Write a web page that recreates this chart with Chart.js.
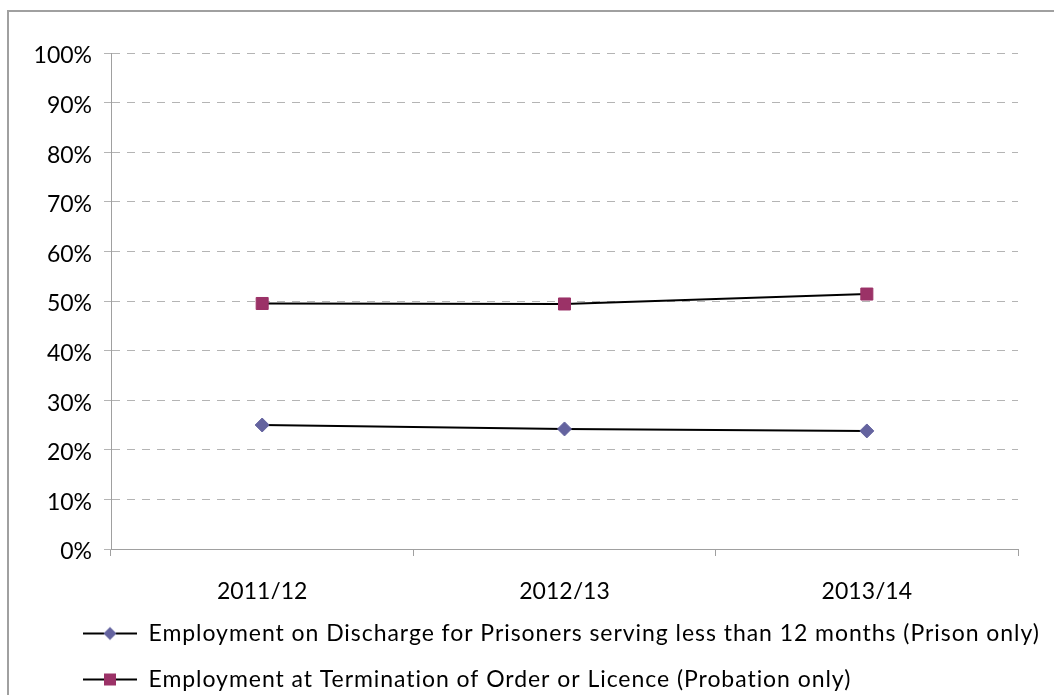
<!DOCTYPE html>
<html>
<head>
<meta charset="utf-8">
<script src="https://cdn.jsdelivr.net/npm/chart.js@4"></script>
<style>
  html, body { margin: 0; padding: 0; background: #fff; overflow: hidden; }
  #frame { position: absolute; left: 7px; top: 10px; width: 1100px; height: 800px;
           border-top: 2px solid #a0a0a0; border-left: 2px solid #a0a0a0; pointer-events: none; }
  #wrap { position: absolute; left: 0; top: 0; width: 1054px; height: 702px; }
</style>
</head>
<body>
<div id="wrap"><canvas id="empChart"></canvas></div>
<div id="frame"></div>
<script>
const years = ['2011/12', '2012/13', '2013/14'];
const prisonVals = [0.250, 0.242, 0.238];
const probationVals = [0.495, 0.494, 0.514];
const prisonLabel = 'Employment on Discharge for Prisoners serving less than 12 months (Prison only)';
const probationLabel = 'Employment at Termination of Order or Licence (Probation only)';

const diamondCol = '#64639f';
const squareCol = '#9b3267';

// legend swatch: line with marker in the middle
function swatch(kind, col) {
  const c = document.createElement('canvas');
  c.width = 54; c.height = 16;
  const g = c.getContext('2d');
  g.strokeStyle = '#000';
  g.lineWidth = 2;
  g.beginPath(); g.moveTo(0, 8); g.lineTo(54, 8); g.stroke();
  g.fillStyle = col;
  if (kind === 'diamond') {
    g.beginPath(); g.moveTo(27, 1.5); g.lineTo(33.5, 8); g.lineTo(27, 14.5); g.lineTo(20.5, 8); g.closePath(); g.fill();
  } else {
    g.fillRect(21, 2, 12, 12);
  }
  return c;
}

const font = { family: 'Lato, "Open Sans", sans-serif', size: 23 };

new Chart(document.getElementById('empChart'), {
  type: 'line',
  data: {
    labels: years,
    datasets: [{
      label: prisonLabel,
      data: prisonVals,
      borderColor: '#000',
      borderWidth: 2,
      pointStyle: 'rectRot',
      pointRadius: 7,
      pointBackgroundColor: diamondCol,
      pointBorderColor: diamondCol,
      pointBorderWidth: 1,
      tension: 0
    }, {
      label: probationLabel,
      data: probationVals,
      borderColor: '#000',
      borderWidth: 2,
      pointStyle: 'rect',
      pointRadius: 8.5,
      pointBackgroundColor: squareCol,
      pointBorderColor: squareCol,
      pointBorderWidth: 1,
      tension: 0
    }]
  },
  options: {
    responsive: true,
    maintainAspectRatio: false,
    animation: false,
    layout: { padding: { left: 10, right: 36, top: 53, bottom: 1 } },
    plugins: {
      tooltip: { enabled: false },
      legend: {
        position: 'bottom',
        align: 'start',
        labels: {
          usePointStyle: true,
          pointStyleWidth: 54,
          padding: 23,
          color: '#000',
          font: font,
          generateLabels: (chart) => [
            { text: prisonLabel, pointStyle: swatch('diamond', diamondCol), datasetIndex: 0, fontColor: '#000', lineWidth: 0 },
            { text: probationLabel, pointStyle: swatch('square', squareCol), datasetIndex: 1, fontColor: '#000', lineWidth: 0 }
          ]
        }
      }
    },
    scales: {
      x: {
        offset: true,
        afterFit: (s) => { s.height = 50; },
        grid: { drawOnChartArea: false, offset: true, tickLength: 7, color: '#a0a0a0' },
        border: { color: '#a0a0a0' },
        ticks: { color: '#000', font: font, padding: 22 }
      },
      y: {
        min: 0,
        max: 1,
        afterFit: (s) => { s.width = 101; },
        grid: { color: '#b4b4b4', tickLength: 7, tickBorderDash: [8, 7] },
        border: { color: '#a0a0a0', dash: [8, 7] },
        ticks: {
          stepSize: 0.1,
          color: '#000',
          font: font,
          padding: 12,
          labelOffset: 3,
          callback: (v) => Math.round(v * 100) + '%'
        }
      }
    }
  },
  plugins: [{
    id: 'legendShift',
    afterLayout: (chart) => {
      const lg = chart.legend;
      if (!lg || lg._shifted) return;
      lg._shifted = true;
      lg.left += 50;
      lg.right = chart.width;
      lg.width = lg.right - lg.left;
      const orig = lg.draw;
      lg.draw = function () {
        const ctx = this.ctx;
        ctx.save();
        ctx.letterSpacing = '0.95px';
        orig.apply(this, arguments);
        ctx.restore();
      };
    }
  }]
});
</script>
</body>
</html>
